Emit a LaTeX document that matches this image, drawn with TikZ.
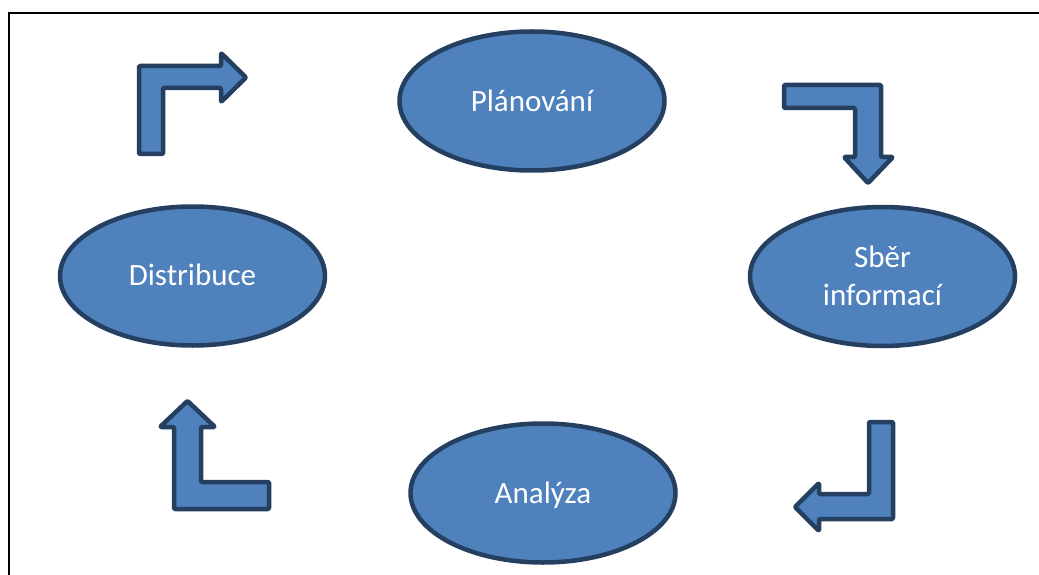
\documentclass[tikz,border=0pt]{standalone}
\usepackage{fontspec}
\setmainfont{Carlito}
\usetikzlibrary{shapes.geometric}
\definecolor{shapefill}{HTML}{4F81BD}
\definecolor{shapeline}{HTML}{243F60}
\begin{document}
\begin{tikzpicture}[x=1pt,y=-1pt,
  bubble/.style={ellipse, draw=shapeline, fill=shapefill, line width=4.5pt,
    minimum width=265pt, minimum height=139pt, inner sep=0pt},
  bubbletext/.style={text=white, font=\fontsize{31}{38}\selectfont, anchor=base, align=center, inner sep=0pt},
  bentarrow/.style={draw=shapeline, fill=shapefill, line width=4.5pt, line join=round, rounded corners=1pt}]
\useasboundingbox (0,0) rectangle (1039,575);
\fill[white] (0,0) rectangle (1039,575);
% frame (right and bottom sides lie outside the picture)
\draw[black, line width=2pt] (9,600) -- (9,13.5) -- (1060,13.5);

% ellipses
\node[bubble] (plan) at (532,101) {};
\node[bubble] (sber) at (882.5,276.5) {};
\node[bubble] (anal) at (543,493) {};
\node[bubble] (dist) at (192.5,276) {};

\node[bubbletext] (plantext) at (532,111.5) {Plánování};
\node[bubbletext] (sbertext) at (882.5,305) {Sběr\\informací};
\node[bubbletext] (analtext) at (543,503) {Analýza};
\node[bubbletext] (disttext) at (192.5,285) {Distribuce};

% bent arrows
\draw[bentarrow] (139,154) -- (139,66) -- (221,66) -- (221,53) -- (246,77.5) -- (221,102) -- (221,88) -- (163,88) -- (163,154) -- cycle;
\draw[bentarrow] (784,85) -- (881,85) -- (881,157) -- (893,157) -- (868,183) -- (844,157) -- (855,157) -- (855,108) -- (784,108) -- cycle;
\draw[bentarrow] (869,422) -- (893,422) -- (893,519) -- (819,519) -- (819,531) -- (795,507) -- (819,483) -- (819,494) -- (869,494) -- cycle;
\draw[bentarrow] (269,509) -- (174,509) -- (174,427) -- (160,427) -- (187.5,401) -- (215,427) -- (201,427) -- (201,482) -- (269,482) -- cycle;
\end{tikzpicture}
\end{document}
